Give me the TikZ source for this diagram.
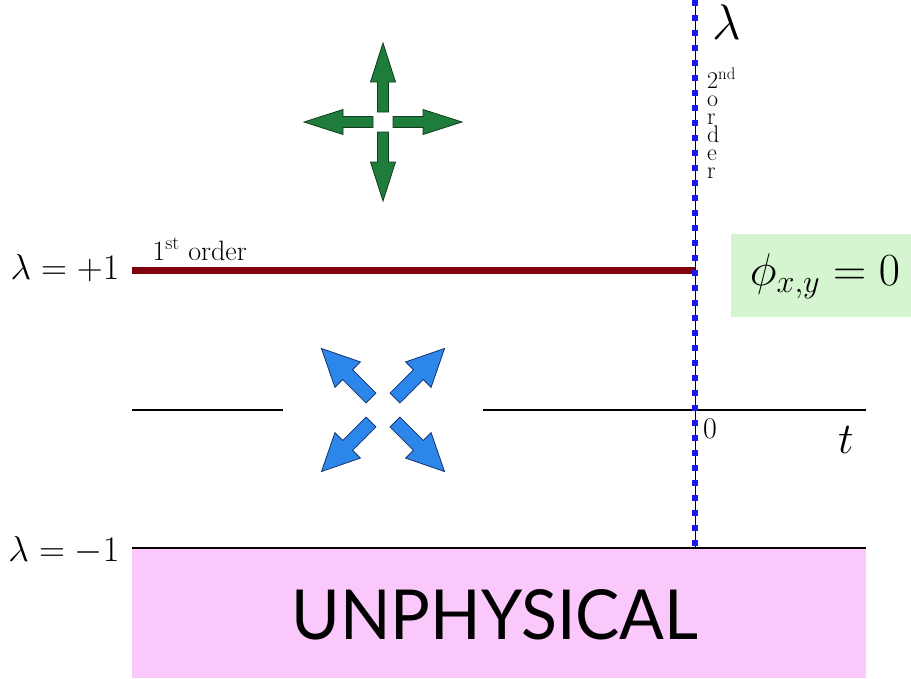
\RequirePackage{fix-cm}
\documentclass[tikz,border=0pt]{standalone}
\usepackage{fontspec}
\newfontfamily\unphysfont{Lato}
\usetikzlibrary{positioning}
\definecolor{orderred}{RGB}{128,0,12}
\definecolor{dotblue}{RGB}{25,25,235}
\definecolor{phigreen}{RGB}{213,245,208}
\definecolor{unphyspink}{RGB}{250,200,250}
\definecolor{arrowgreen}{RGB}{30,125,58}
\definecolor{arrowgreenline}{RGB}{15,60,30}
\definecolor{arrowblue}{RGB}{45,135,235}
\definecolor{arrowblueline}{RGB}{20,50,110}
\tikzset{
  pics/fatarrow/.style n args={5}{code={
    \path[pic actions] (#1,-#4) -- (#2,-#4) -- (#2,-#5) -- (#3,0) -- (#2,#5) -- (#2,#4) -- (#1,#4) -- cycle;
  }},
  greenarrow/.style={fill=arrowgreen, draw=arrowgreenline, line width=0.8pt, line join=miter},
  bluearrow/.style={fill=arrowblue, draw=arrowblueline, line width=0.8pt, line join=miter},
  axisline/.style={line width=1.8pt},
  fs/.style={font=\fontsize{#1}{#1}\selectfont}
}
\begin{document}
\begin{tikzpicture}[x=1pt,y=-1pt]
\useasboundingbox (0,0) rectangle (911,678);
\coordinate (ttop) at (695,0);
\coordinate (tbot) at (695,548);
\coordinate (redL) at (132,270);
\coordinate (redR) at (695,270);
\coordinate (midL) at (132,410);
\coordinate (gapL) at (283,410);
\coordinate (gapR) at (483,410);
\coordinate (midR) at (866,410);
\coordinate (lowL) at (132,548);
\coordinate (lowR) at (866,548);
\coordinate (gcenter) at (383,122);
\coordinate (bcenter) at (383,410);
\fill[unphyspink] (lowL) rectangle (866,678);
\node[fill=phigreen, minimum width=180, minimum height=83, inner sep=0, anchor=north west] (phibox) at (731,234) {};
\node[fs=46] (phi) at (825,276) {$\phi_{x,y}=0$};
\node[xscale=0.96, font=\unphysfont\fontsize{69}{69}\selectfont] (unphys) at (495,615) {UNPHYSICAL};
\draw[axisline] (midL) -- (gapL);
\draw[axisline] (gapR) -- (midR);
\draw[axisline] (lowL) -- (lowR);
\draw[orderred, line width=7pt] (redL) -- (redR);
\draw[line width=0.8pt] (ttop) -- (tbot);
\draw[dotblue, line width=6pt, dash pattern=on 6pt off 9pt] (ttop) -- (tbot);
\node[anchor=east, fs=36] (lamplus) at (123,268) {$\lambda=+1$};
\node[anchor=east, fs=36] (lamminus) at (123,550) {$\lambda=-1$};
\node[anchor=base west, fs=28] (first) at (149,260) {1\textsuperscript{st} order};
\node[fs=50] (lamtop) at (727,22) {$\lambda$};
\node[anchor=north west, align=left, inner sep=0, font=\fontsize{24}{18}\selectfont] (second) at (707,68) {2\textsuperscript{nd}\\o\\r\\d\\e\\r};
\node[anchor=west, fs=30, inner sep=0] (zero) at (703,429) {0};
\node[fs=44] (tlabel) at (846,440) {$t$};
\foreach \ang in {0,90,180,270}
  \pic[greenarrow, rotate=\ang] at (gcenter) {fatarrow={10}{40}{79}{5.5}{12.5}};
\foreach \ang in {45,135,225,315}
  \pic[bluearrow, rotate=\ang] at (bcenter) {fatarrow={17}{50}{87}{7}{18}};
\end{tikzpicture}
\end{document}
